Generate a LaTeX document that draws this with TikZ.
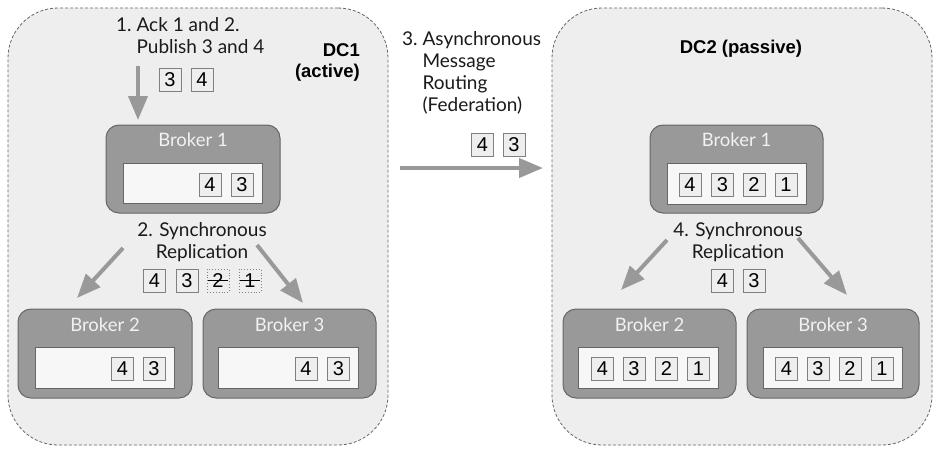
\documentclass[tikz,border=0pt]{standalone}
\usepackage{fontspec}
\setmainfont{Lato}
\newfontfamily\arialf{Liberation Sans}
\usetikzlibrary{arrows.meta,fit}
\definecolor{bg}{HTML}{EEEEEE}
\definecolor{bord}{HTML}{666666}
\definecolor{brk}{HTML}{999999}
\definecolor{qfill}{HTML}{F7F7F7}
\definecolor{arr}{HTML}{999999}
\definecolor{brktext}{HTML}{F2F2F2}
\definecolor{msgbord}{HTML}{808080}
\definecolor{txt}{HTML}{1A1A1A}
\tikzset{
  dc/.style={draw=bord, dash pattern=on 3pt off 2pt, fill=bg, rounded corners=50pt, line width=0.8pt, inner sep=0pt},
  broker/.style={draw=bord, fill=brk, rounded corners=13pt, line width=1pt, inner sep=0pt},
  queue/.style={draw=bord, fill=qfill, line width=1pt, inner sep=0pt},
  msg/.style={draw=msgbord, fill=bg, minimum width=22pt, minimum height=23pt, inner sep=0pt, line width=0.9pt, text=black, font=\arialf\fontsize{20}{20}\selectfont},
  gone/.style={msg, fill=bg, dotted},
  flow/.style={draw=arr, line width=4pt, -{Triangle[length=24pt,width=19pt]}},
  lbl/.style={font=\fontsize{19}{22}\selectfont, text=txt, inner sep=0pt},
  bname/.style={font=\fontsize{18.5}{18.5}\selectfont, text=brktext, inner sep=0pt},
  dcname/.style={font=\arialf\bfseries\fontsize{18.5}{21.5}\selectfont, text=black, inner sep=0pt},
}
\begin{document}
\begin{tikzpicture}[x=1pt,y=-1pt]
\useasboundingbox[fill=white] (0,0) rectangle (941,456);
% containers
\node[dc, fit={(8,8) (388,445)}] (dc1) {};
\node[dc, fit={(552,8) (932,445)}] (dc2) {};
\node[dcname, align=right, anchor=north east] (dc1n) at (360,43) {DC1\\(active)};
\node[dcname, anchor=center] (dc2n) at (741,49) {DC2 (passive)};

% ---- DC1 ----
\node[broker, fit={(106,125) (280,213)}] (b11) {};
\node[bname] (b11t) at (193,140) {Broker 1};
\node[queue, fit={(123,163) (262,203)}] (q11) {};
\node[msg] (m11a) at (210,184.5) {4};
\node[msg] (m11b) at (242,184.5) {3};

\node[broker, fit={(18,309) (192,398)}] (b12) {};
\node[bname] (b12t) at (105,325) {Broker 2};
\node[queue, fit={(35,347) (174,388)}] (q12) {};
\node[msg] (m12a) at (122.5,368.5) {4};
\node[msg] (m12b) at (154,368.5) {3};

\node[broker, fit={(203,309) (376,398)}] (b13) {};
\node[bname] (b13t) at (289.5,325) {Broker 3};
\node[queue, fit={(218,347) (358,388)}] (q13) {};
\node[msg] (m13a) at (306,368.5) {4};
\node[msg] (m13b) at (338.5,368.5) {3};

% publish
\node[lbl, align=left, anchor=north west] (t1) at (116,17) {1.\ Ack 1 and 2.\\\hphantom{1.\ }Publish 3 and 4};
\node[msg] (p1) at (170,80) {3};
\node[msg] (p2) at (202,80) {4};
\coordinate (a1s) at (138,66);
\coordinate (a1e) at (138,120);
\draw[flow] (a1s) -- (a1e);

% replication DC1
\node[lbl, align=center] (t2) at (202,242) {2. Synchronous\\Replication};
\node[msg] (r1a) at (154.5,280.5) {4};
\node[msg] (r1b) at (187,280.5) {3};
\node[gone] (r1c) at (218,280.5) {2};
\node[gone] (r1d) at (250,280.5) {1};
\draw[line width=0.8pt, black] ([xshift=1.5pt]r1c.west) -- ([xshift=-1.5pt]r1c.east);
\draw[line width=0.8pt, black] ([xshift=1.5pt]r1d.west) -- ([xshift=-1.5pt]r1d.east);
\coordinate (a2s) at (123,248);
\coordinate (a2e) at (77,298);
\coordinate (a3s) at (257,245);
\coordinate (a3e) at (303,303);
\draw[flow] (a2s) -- (a2e);
\draw[flow] (a3s) -- (a3e);

% federation
\node[lbl, align=left, anchor=north west] (t3) at (402,31) {3.\ Asynchronous\\\hphantom{3.\ }Message\\\hphantom{3.\ }Routing\\\hphantom{3.\ }(Federation)};
\node[msg] (f1) at (482.5,144.5) {4};
\node[msg] (f2) at (514,144.5) {3};
\coordinate (fs) at (400,168);
\coordinate (fe) at (543,168);
\draw[flow] (fs) -- (fe);

% ---- DC2 ----
\node[broker, fit={(650,125) (823,213)}] (b21) {};
\node[bname] (b21t) at (736.5,140) {Broker 1};
\node[queue, fit={(667,163) (806,204)}] (q21) {};
\node[msg] (m21a) at (690,184.5) {4};
\node[msg] (m21b) at (722.5,184.5) {3};
\node[msg] (m21c) at (754,184.5) {2};
\node[msg] (m21d) at (786,184.5) {1};

\node[lbl, align=center] (t4) at (738,242) {4. Synchronous\\Replication};
\node[msg] (r2a) at (722.5,280.5) {4};
\node[msg] (r2b) at (754,280.5) {3};
\coordinate (a4s) at (667,240);
\coordinate (a4e) at (621,290);
\coordinate (a5s) at (798,238);
\coordinate (a5e) at (847,295);
\draw[flow] (a4s) -- (a4e);
\draw[flow] (a5s) -- (a5e);

\node[broker, fit={(563,309) (736,398)}] (b22) {};
\node[bname] (b22t) at (649.5,325) {Broker 2};
\node[queue, fit={(578,347) (718,388)}] (q22) {};
\node[msg] (m22a) at (602.5,368.5) {4};
\node[msg] (m22b) at (634,368.5) {3};
\node[msg] (m22c) at (666.5,368.5) {2};
\node[msg] (m22d) at (698.5,368.5) {1};

\node[broker, fit={(747,309) (919,398)}] (b23) {};
\node[bname] (b23t) at (833,325) {Broker 3};
\node[queue, fit={(763,347) (902,388)}] (q23) {};
\node[msg] (m23a) at (786.5,368.5) {4};
\node[msg] (m23b) at (818,368.5) {3};
\node[msg] (m23c) at (850,368.5) {2};
\node[msg] (m23d) at (882,368.5) {1};
\end{tikzpicture}
\end{document}
